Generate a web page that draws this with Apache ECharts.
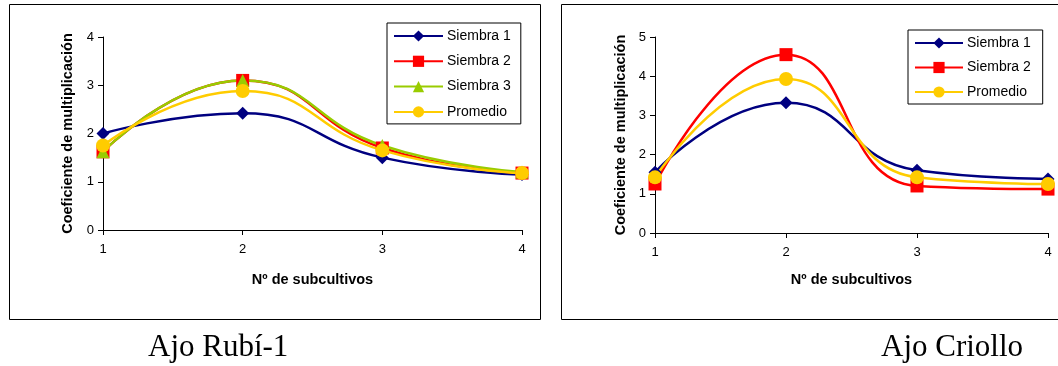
<!DOCTYPE html>
<html><head><meta charset="utf-8">
<script src="https://cdn.jsdelivr.net/npm/echarts@6/dist/echarts.min.js"></script>
<style>html,body{margin:0;padding:0;background:#fff}#c{width:1058px;height:366px}</style>
</head><body><div id="c"></div>
<script>
const subcultivos = [1, 2, 3, 4];
const rubiS1 = [2.0, 2.42, 1.5, 1.15];
const rubiS2 = [1.62, 3.1, 1.7, 1.18];
const rubiS3 = [1.62, 3.1, 1.75, 1.2];
const rubiProm = [1.75, 2.88, 1.65, 1.18];
const criS1 = [1.55, 3.32, 1.6, 1.38];
const criS2 = [1.25, 4.55, 1.2, 1.12];
const criProm = [1.42, 3.93, 1.42, 1.25];
const leftTicks = [0, 1, 2, 3, 4];
const rightTicks = [0, 1, 2, 3, 4, 5];
const captions = ['Ajo Rubí-1', 'Ajo Criollo'];
const yTitle = 'Coeficiente de multiplicación';
const xTitle = 'Nº de subcultivos';

const C = {s1:'#000080', s2:'#FF0000', s3:'#99CC00', p:'#FFCC00'};
const chart = echarts.init(document.getElementById('c'));
const pair = (arr) => subcultivos.map((x,i)=>[x, arr[i]]);
const FONT = 'Liberation Sans, Arial, sans-serif';
const titleStyle = {fontFamily:FONT, fontWeight:'bold', fontSize:14.5, color:'#000'};
const labelStyle = {color:'#000', fontFamily:FONT, fontSize:13};
function xAx(idx, gap){return {
  type:'value', gridIndex:idx, min:1, max:4, interval:1,
  name:xTitle, nameLocation:'middle', nameGap:gap, nameTextStyle:titleStyle,
  axisLine:{show:true, lineStyle:{color:'#000', width:1}},
  axisTick:{show:true, length:5, lineStyle:{color:'#000'}},
  splitLine:{show:false},
  axisLabel:Object.assign({}, labelStyle, {margin:13})
};}
function yAx(idx, max, gap){return {
  type:'value', gridIndex:idx, min:0, max:max, interval:1,
  name:yTitle, nameLocation:'middle', nameGap:gap, nameRotate:90, nameTextStyle:titleStyle,
  axisLine:{show:true, lineStyle:{color:'#000', width:1}},
  axisTick:{show:true, length:5, lineStyle:{color:'#000'}},
  splitLine:{show:false},
  axisLabel:Object.assign({}, labelStyle, {margin:9})
};}
function ser(name, data, color, symbol, size, idx){
  return {name, type:'line', xAxisIndex:idx, yAxisIndex:idx, data:pair(data), smooth:0.5,
    symbol, symbolSize:size, lineStyle:{color, width:2.5}, itemStyle:{color},
    showAllSymbol:true, animation:false};
}
const legendText = {fontFamily:FONT, fontSize:14, color:'#000', padding:[0,0,0,-1]};
chart.setOption({
  animation:false,
  grid:[
    {left:103, top:37, width:419, height:193},
    {left:655, top:37, width:393, height:196}
  ],
  xAxis:[xAx(0, 42), xAx(1, 39)],
  yAxis:[yAx(0,4,28), yAx(1,5,27)],
  legend:[
    {orient:'vertical', left:387, top:23, itemWidth:49, itemHeight:14, itemGap:11.3,
     padding:[6,10,5,6], borderColor:'#000', borderWidth:1, textStyle:legendText,
     data:['Siembra 1','Siembra 2','Siembra 3','Promedio']},
    {orient:'vertical', left:908, top:30, itemWidth:48, itemHeight:14, itemGap:10.5,
     padding:[6,8,5,6], borderColor:'#000', borderWidth:1, textStyle:legendText,
     data:['Siembra 1 ','Siembra 2 ','Promedio ']}
  ],
  series:[
    ser('Siembra 1', rubiS1, C.s1, 'diamond', 13, 0),
    ser('Siembra 2', rubiS2, C.s2, 'rect', 13, 0),
    ser('Siembra 3', rubiS3, C.s3, 'triangle', 13, 0),
    ser('Promedio', rubiProm, C.p, 'circle', 14, 0),
    ser('Siembra 1 ', criS1, C.s1, 'diamond', 13, 1),
    ser('Siembra 2 ', criS2, C.s2, 'rect', 13, 1),
    ser('Promedio ', criProm, C.p, 'circle', 14, 1)
  ],
  graphic:[
    {type:'rect', shape:{x:9.5, y:4.5, width:531, height:315}, style:{fill:null, stroke:'#000', lineWidth:1}, silent:true},
    {type:'rect', shape:{x:561.5, y:4.5, width:520, height:315}, style:{fill:null, stroke:'#000', lineWidth:1}, silent:true},
    {type:'text', left:148, top:332, style:{text:captions[0], font:'31px "Liberation Serif", "Times New Roman", serif', fill:'#000'}},
    {type:'text', left:881, top:332, style:{text:captions[1], font:'31px "Liberation Serif", "Times New Roman", serif', fill:'#000'}}
  ]
});
</script></body></html>
